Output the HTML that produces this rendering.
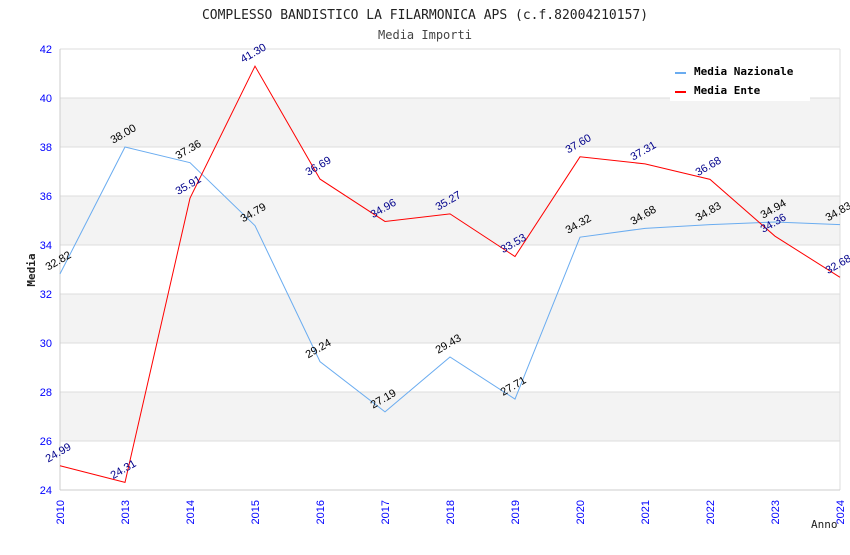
<!DOCTYPE html>
<html><head><meta charset="utf-8"><style>
body{margin:0;background:#fff}
svg{font-family:"DejaVu Sans Mono","Liberation Mono",monospace}
</style></head><body>
<svg id="c" width="850" height="550" xmlns="http://www.w3.org/2000/svg">
<text x="425" y="19" text-anchor="middle" font-size="13" fill="#222">COMPLESSO BANDISTICO LA FILARMONICA APS (c.f.82004210157)</text>
<text x="425" y="39" text-anchor="middle" font-size="12" fill="#444">Media Importi</text>
<g id="bands"></g><g id="grid"></g><g id="axes"></g><g id="lines"></g><g id="labels"></g>
<text x="35" y="270" transform="rotate(-90 35 270)" text-anchor="middle" font-size="11" font-weight="bold" fill="#222">Media</text>
<text x="811" y="528" font-size="11" fill="#222">Anno</text>
<g>
<rect x="670" y="60" width="140" height="41" fill="#fff"/>
<line x1="675" y1="73" x2="686" y2="73" stroke="#6aacf0" stroke-width="2"/>
<text x="694" y="75" font-size="11" font-weight="bold" fill="#000">Media Nazionale</text>
<line x1="675" y1="92" x2="686" y2="92" stroke="#f00" stroke-width="2"/>
<text x="694" y="94" font-size="11" font-weight="bold" fill="#000">Media Ente</text>
</g>
</svg>
<script>
const categories=["2010","2013","2014","2015","2016","2017","2018","2019","2020","2021","2022","2023","2024"];
const nazionale=[32.82,38.00,37.36,34.79,29.24,27.19,29.43,27.71,34.32,34.68,34.83,34.94,34.83];
const ente=[24.99,24.31,35.91,41.30,36.69,34.96,35.27,33.53,37.60,37.31,36.68,34.36,32.68];
const yTicks=[24,26,28,30,32,34,36,38,40,42];
const NS="http://www.w3.org/2000/svg";
const L=60,R=840,T=49,B=490,ymin=24,ymax=42;
const xs=i=>L+i*(R-L)/(categories.length-1);
const ys=v=>B-(v-ymin)/(ymax-ymin)*(B-T);
function mk(tag,attrs,parent,txt){const e=document.createElementNS(NS,tag);for(const k in attrs)e.setAttribute(k,attrs[k]);if(txt!==undefined)e.textContent=txt;document.getElementById(parent).appendChild(e);return e;}
for(let i=0;i<yTicks.length-1;i++){if(i%2===1){const r=mk('rect',{x:L,y:ys(yTicks[i+1]),width:R-L,height:ys(yTicks[i])-ys(yTicks[i+1]),fill:'#f3f3f3'},'bands');

}}
yTicks.forEach(t=>{const g=mk('line',{x1:L,x2:R,y1:ys(t),y2:ys(t),stroke:'#ddd'},'grid');


const tl=mk('text',{x:L-8,y:ys(t)+4,'text-anchor':'end','font-size':11,fill:'#00f','font-family':'Liberation Sans, sans-serif'},'axes',t);

});
mk('line',{x1:L,x2:L,y1:T,y2:B,stroke:'#ccc'},'axes');
mk('line',{x1:R,x2:R,y1:T,y2:B,stroke:'#ddd'},'axes');
mk('line',{x1:L,x2:R,y1:B,y2:B,stroke:'#ccc'},'axes');
categories.forEach((c,i)=>{const x=xs(i)+4;const t=mk('text',{x:x,y:B+10,transform:`rotate(-90 ${x} ${B+10})`,'text-anchor':'end','font-size':11,fill:'#00f','font-family':'Liberation Sans, sans-serif'},'axes',c);

});
function series(arr,color,lc,name){
const p=mk('polyline',{points:arr.map((v,i)=>xs(i)+','+ys(v)).join(' '),fill:'none',stroke:color,'stroke-width':1},'lines');


arr.forEach((v,i)=>{const x=xs(i),y=ys(v)-10;const t=mk('text',{x:x,y:y,transform:`rotate(-30 ${x} ${y})`,'text-anchor':'middle','font-size':11,fill:lc,'font-family':'Liberation Sans, sans-serif'},'labels',v.toFixed(2));

});}
series(nazionale,'#6aacf0','#000','nazionale');
series(ente,'#f00','#00008b','ente');
</script>
</body></html>
